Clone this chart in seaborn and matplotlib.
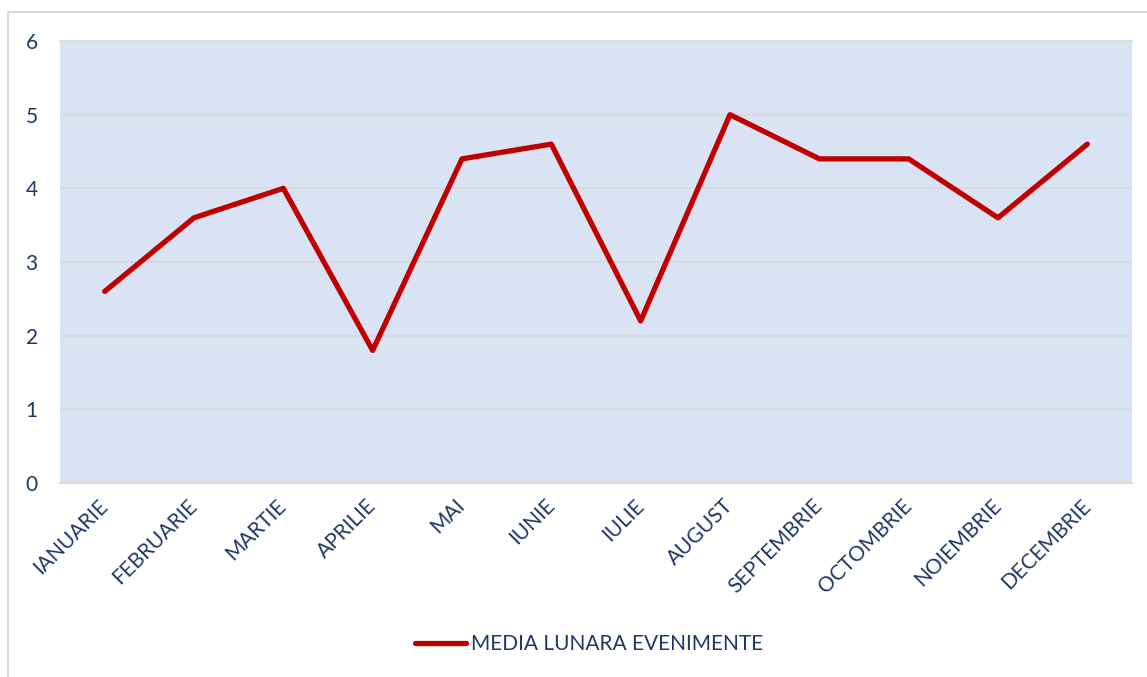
import numpy as np
import pandas as pd
import seaborn as sns
import matplotlib
matplotlib.use('Agg')
from matplotlib import pyplot as plt
from matplotlib.patches import Rectangle

months = ['IANUARIE', 'FEBRUARIE', 'MARTIE', 'APRILIE', 'MAI', 'IUNIE',
          'IULIE', 'AUGUST', 'SEPTEMBRIE', 'OCTOMBRIE', 'NOIEMBRIE', 'DECEMBRIE']
media = [2.6, 3.6, 4.0, 1.8, 4.4, 4.6, 2.2, 5.0, 4.4, 4.4, 3.6, 4.6]
series_name = 'MEDIA LUNARA EVENIMENTE'

df = pd.DataFrame({'luna': months, 'media': media, 'serie': series_name})

sns.set_style('white')
plt.rcParams['font.family'] = ['Lato', 'DejaVu Sans']

navy = '#1F3864'
grid = '#D9D9D9'
red = '#C00000'

fig = plt.figure(figsize=(11.47, 6.77), dpi=100)
# outer chart border (only top/left visible in the crop)
fig.patches.append(Rectangle((8 / 1147, -0.1), 1.2, 1 - 12 / 677 + 0.1,
                             transform=fig.transFigure, fill=False,
                             edgecolor=grid, linewidth=1.5))

ax = fig.add_axes([60 / 1147, 1 - 483 / 677, 1072 / 1147, 442 / 677])
ax.set_facecolor('#DAE3F3')

sns.lineplot(data=df, x='luna', y='media', hue='serie', palette=[red],
             linewidth=3.8, sort=False, ax=ax, solid_capstyle='round')

ax.set_xlim(-0.5, 11.5)
ax.set_ylim(0, 6)
ax.set_yticks(range(7))
ax.yaxis.grid(True, color=grid, linewidth=1.2)
ax.set_axisbelow(True)
for s in ['left', 'right']:
    ax.spines[s].set_visible(False)
ax.spines['bottom'].set_color(grid)
ax.spines['bottom'].set_linewidth(1.5)
ax.spines['top'].set_color(grid)
ax.spines['top'].set_linewidth(1.2)
ax.tick_params(axis='both', length=0, colors=navy, labelsize=15)
ax.tick_params(axis='y', pad=16)
ax.tick_params(axis='x', pad=14)
plt.setp(ax.get_xticklabels(), rotation=45, ha='right', va='center',
         rotation_mode='anchor')
ax.set_xlabel('')
ax.set_ylabel('')

leg = ax.legend(loc='center', bbox_to_anchor=(0.4935, -0.365), frameon=False,
                fontsize=15, handlelength=2.45, handletextpad=0.25)
for t in leg.get_texts():
    t.set_color(navy)

fig.savefig('out.png', dpi=100)
